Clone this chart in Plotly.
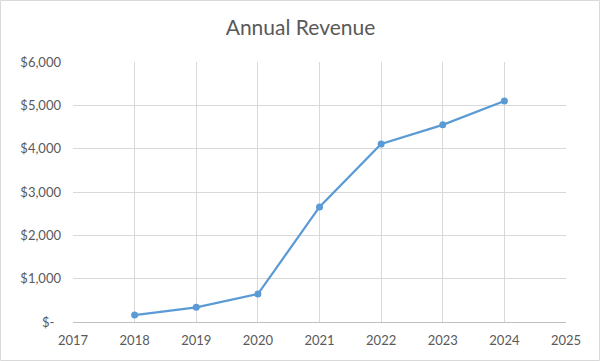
import plotly.graph_objects as go

years = [2018, 2019, 2020, 2021, 2022, 2023, 2024]
revenue = [160, 340, 645, 2655, 4110, 4550, 5100]
x_ticks = [2017, 2018, 2019, 2020, 2021, 2022, 2023, 2024, 2025]
y_ticks = [0, 1000, 2000, 3000, 4000, 5000, 6000]
y_labels = ["$-\u00a0\u00a0", "$1,000", "$2,000", "$3,000", "$4,000", "$5,000", "$6,000"]

W, H = 601, 361
L, R, T, B = 73, 35, 62, 39
pw, ph = W - L - R, H - T - B

fig = go.Figure(go.Scatter(
    x=years, y=revenue, mode="lines+markers",
    line=dict(color="#5B9BD5", width=2.25),
    marker=dict(color="#5B9BD5", size=7),
))

fig.update_layout(
    width=W, height=H,
    margin=dict(l=L, r=R, t=T, b=B),
    paper_bgcolor="white", plot_bgcolor="white",
    font=dict(family="Lato, Carlito, Liberation Sans, sans-serif", color="#595959", size=13),
    title=dict(text="Annual Revenue", x=0.5, xanchor="center", y=1 - 28 / H, yanchor="middle",
               font=dict(size=21, color="#595959")),
    showlegend=False,
    xaxis=dict(range=[2017, 2025], tickvals=x_ticks, ticktext=[str(v) for v in x_ticks],
               showgrid=True, gridcolor="#D9D9D9", gridwidth=1, zeroline=False,
               showline=True, linecolor="#BFBFBF", linewidth=1, ticks="", ticklen=0,
               ticklabelstandoff=6,
               tickfont=dict(size=13, color="#595959")),
    yaxis=dict(range=[0, 6000], tickvals=y_ticks, ticktext=y_labels,
               showgrid=True, gridcolor="#D9D9D9", gridwidth=1, zeroline=False,
               showline=False, ticks="", ticklen=0,
               ticklabelstandoff=11,
               tickfont=dict(size=13, color="#595959")),
    shapes=[dict(type="rect", xref="paper", yref="paper",
                 x0=-L / pw + 0.5 / pw, x1=1 + (R - 1.5) / pw,
                 y0=-B / ph + 0.5 / ph, y1=1 + (T - 0.5) / ph,
                 line=dict(color="#D9D9D9", width=1), fillcolor="rgba(0,0,0,0)", layer="below")],
)

fig.write_html("out.html", config={"displayModeBar": False},
               post_script="document.body.style.margin='0';document.body.style.overflow='hidden';")
